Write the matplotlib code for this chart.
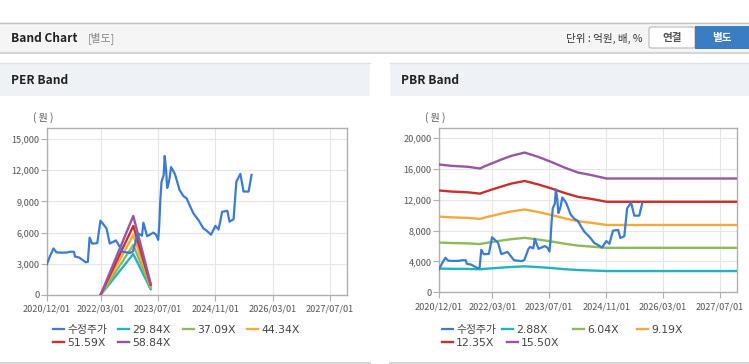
import matplotlib
matplotlib.use("Agg")
import matplotlib.pyplot as plt
from matplotlib.patches import Rectangle, FancyBboxPatch
from matplotlib.lines import Line2D
import pandas as pd

plt.rcParams["font.family"] = ["Noto Sans CJK KR", "DejaVu Sans"]

W, H = 749, 364

# ________________________________________________________________
## adjusted share price (수정주가), shared by both panels
price_dates = [
    "2020-12-01", "2020-12-25", "2021-01-25", "2021-02-19", "2021-04-01", "2021-05-17",
    "2021-06-20", "2021-07-18", "2021-07-27", "2021-09-01", "2021-10-14", "2021-10-26",
    "2021-11-13", "2021-11-28", "2021-12-19", "2022-01-16", "2022-02-01", "2022-02-28",
    "2022-03-18", "2022-04-21", "2022-05-18", "2022-06-15", "2022-07-09", "2022-07-28",
    "2022-09-03", "2022-10-09", "2022-11-09", "2022-12-01", "2023-01-04", "2023-01-19",
    "2023-02-16", "2023-02-28", "2023-04-01", "2023-05-02", "2023-05-23", "2023-06-16",
    "2023-07-04", "2023-07-13", "2023-07-22", "2023-08-01", "2023-08-19", "2023-08-28",
    "2023-09-09", "2023-09-18", "2023-09-27", "2023-10-09", "2023-10-21", "2023-11-06",
    "2023-11-24", "2024-01-01", "2024-02-04", "2024-03-01", "2024-04-01", "2024-04-28",
    "2024-06-10", "2024-07-22", "2024-08-19", "2024-09-25", "2024-11-01", "2024-11-28",
    "2024-12-28", "2025-02-10", "2025-03-01", "2025-04-04", "2025-04-28", "2025-06-01",
    "2025-06-28", "2025-08-10", "2025-09-04",
]
price = [
    2980, 3700, 4480, 4100, 4070, 4080,
    4170, 4150, 3700, 3600, 3250, 3140,
    3200, 5520, 4950, 4960, 5000, 7150,
    6900, 6400, 4950, 5100, 5250, 4900,
    4170, 4100, 4050, 4200, 5600, 5900,
    5700, 6950, 5650, 5850, 6000, 5800,
    5300, 6800, 9130, 10900, 11500, 13370,
    12000, 10300, 10600, 11250, 12300, 12000,
    11600, 10100, 9500, 9300, 8500, 7850,
    7200, 6400, 6180, 5800, 6650, 6300,
    8000, 8100, 7050, 7280, 10900, 11650,
    9950, 9950, 11550,
]

## PER band lines
per_dates = ["2022-03-01", "2022-12-04", "2023-05-01"]
per_labels = ["29.84X", "37.09X", "44.34X", "51.59X", "58.84X"]
per_2984 = [0, 3940, 560]
per_3709 = [0, 4810, 700]
per_4434 = [0, 5770, 830]
per_5159 = [0, 6640, 970]
per_5884 = [0, 7600, 1100]

## PBR band lines
pbr_dates = [
    "2020-12-01", "2021-03-17", "2021-08-07", "2021-11-16", "2021-12-28", "2022-02-24",
    "2022-05-19", "2022-08-13", "2022-12-04", "2023-03-30", "2023-07-19", "2023-11-13",
    "2024-03-04", "2024-06-28", "2024-11-04", "2027-12-31",
]
pbr_labels = ["2.88X", "6.04X", "9.19X", "12.35X", "15.50X"]
pbr_288 = [3080, 3050, 3030, 2990, 3040, 3110, 3200, 3290, 3370, 3270, 3150, 3000, 2890, 2830, 2760, 2760]
pbr_604 = [6460, 6400, 6350, 6260, 6380, 6520, 6720, 6900, 7070, 6850, 6600, 6300, 6060, 5930, 5770, 5770]
pbr_919 = [9830, 9730, 9660, 9530, 9710, 9920, 10220, 10500, 10750, 10420, 10040, 9590, 9220, 9020, 8740, 8740]
pbr_1235 = [13220, 13080, 12980, 12810, 13040, 13330, 13730, 14120, 14450, 14000, 13490, 12880, 12390, 12120, 11750, 11750]
pbr_1550 = [16590, 16420, 16290, 16070, 16370, 16720, 17240, 17720, 18140, 17580, 16930, 16170, 15550, 15210, 14770, 14770]

xtick_dates = ["2020-12-01", "2022-03-01", "2023-07-01", "2024-11-01", "2026-03-01", "2027-07-01"]
xtick_labels = ["2020/12/01", "2022/03/01", "2023/07/01", "2024/11/01", "2026/03/01", "2027/07/01"]
x_range = ("2020-12-01", "2027-11-24")

price_color = "#3a7bd5"
band_colors = ["#22b3c2", "#8dba5a", "#f4a93a", "#c9302c", "#9a55a2"]


def fx(x):
    return x / W


def fy(y):
    return 1 - y / H


def rect(x0, y0, x1, y1, **kw):
    fig.add_artist(Rectangle((fx(x0), fy(y1)), (x1 - x0) / W, (y1 - y0) / H,
                             transform=fig.transFigure, **kw))


def hline(x0, x1, y, color, lw=1.0):
    fig.add_artist(Line2D([fx(x0), fx(x1)], [fy(y), fy(y)], transform=fig.transFigure,
                          color=color, linewidth=lw))


def panel(box, ylim, yticks, bands, band_dates, band_labels, legend_pos):
    x0, y0, x1, y1 = box
    ax = fig.add_axes([fx(x0), fy(y1), (x1 - x0) / W, (y1 - y0) / H])
    pd_dates = pd.to_datetime(price_dates)
    bd = pd.to_datetime(band_dates)
    lines = [ax.plot(pd_dates, price, color=price_color, linewidth=1.6, zorder=5)[0]]
    for vals, c in zip(bands, band_colors):
        lines.append(ax.plot(bd, vals, color=c, linewidth=1.7, zorder=3)[0])

    ax.set_xlim(pd.to_datetime(x_range[0]), pd.to_datetime(x_range[1]))
    ax.set_ylim(*ylim)
    ax.set_yticks(yticks)
    ax.set_yticklabels(["{:,}".format(v) for v in yticks])
    ax.set_xticks(pd.to_datetime(xtick_dates))
    ax.set_xticklabels(xtick_labels)
    ax.grid(color="#e6e6e6", linewidth=0.8)
    ax.set_axisbelow(True)
    for s in ax.spines.values():
        s.set_color("#b0b0b0")
        s.set_linewidth(1.0)
    ax.tick_params(axis="both", direction="out", length=4, width=0.8, color="#b0b0b0",
                   labelcolor="#555555", labelsize=6.6, pad=1.5)
    ax.tick_params(axis="x", pad=3)

    fig.text(fx(x0 - 4), fy(118), "( 원 )", ha="center", va="center", fontsize=7.2, color="#555555")

    labels = ["수정주가"] + band_labels
    for ln, lab, (lx, ly) in zip(lines, labels, legend_pos):
        fig.legend(handles=[ln], labels=[lab], loc="center left",
                   bbox_to_anchor=(fx(lx), fy(ly)), frameon=False,
                   prop={"family": ["DejaVu Sans", "Noto Sans CJK KR"], "size": 7.8},
                   handlelength=1.0, handletextpad=0.3, borderpad=0, borderaxespad=0,
                   labelcolor="#444444")
    return ax


fig = plt.figure(figsize=(W / 100, H / 100), dpi=100)
fig.patch.set_facecolor("white")

## top header
rect(0, 22, W, 53, facecolor="#f5f5f5", edgecolor="none")
hline(0, W, 22.5, "#c4c4c4")
hline(0, W, 53, "#d4d4d4", lw=1.5)
fig.text(fx(11), fy(38), "Band Chart", fontsize=8.6, fontweight="bold", color="#222222",
         ha="left", va="center")
fig.text(fx(88), fy(38), "[별도]", fontsize=7.8, color="#888888", ha="left", va="center")
fig.text(fx(642), fy(38), "단위 : 억원, 배, %", fontsize=7.6, color="#333333", ha="right", va="center")
fig.add_artist(FancyBboxPatch((fx(649), fy(48)), 46 / W, 21 / H, boxstyle="round,pad=0,rounding_size=0.004",
                              transform=fig.transFigure, facecolor="white", edgecolor="#b8b8b8",
                              linewidth=0.8))
fig.text(fx(672), fy(37.5), "연결", fontsize=7.6, fontweight="bold", color="#555555", ha="center", va="center")
rect(695, 25.5, 749, 48.5, facecolor="#3b7dc4", edgecolor="none")
fig.text(fx(722), fy(37.5), "별도", fontsize=7.6, fontweight="bold", color="white", ha="center", va="center")

## panel headers and bottom lines
for px0, px1, title in [(0, 370, "PER Band"), (390, 749, "PBR Band")]:
    rect(px0, 63, px1, 96, facecolor="#eef1f6", edgecolor="none")
    hline(px0, px1, 63, "#dde1e7")
    hline(px0, px1, 362.5, "#d6d6d6", lw=1.5)
    fig.text(fx(px0 + 11), fy(80), title, fontsize=8.6, fontweight="bold", color="#222222",
             ha="left", va="center")

per_bands = [per_2984, per_3709, per_4434, per_5159, per_5884]
pbr_bands = [pbr_288, pbr_604, pbr_919, pbr_1235, pbr_1550]

panel((47, 128, 347, 295), (0, 16060), [0, 3000, 6000, 9000, 12000, 15000],
      per_bands, per_dates, per_labels,
      [(53, 330), (118, 330), (183, 330), (247, 330), (53, 343), (118, 343)])
panel((439, 128, 737, 292.3), (0, 21330), [0, 4000, 8000, 12000, 16000, 20000],
      pbr_bands, pbr_dates, pbr_labels,
      [(442, 330), (502, 330), (573, 330), (637, 330), (442, 343), (507, 343)])

fig.savefig("out.png", dpi=100)
